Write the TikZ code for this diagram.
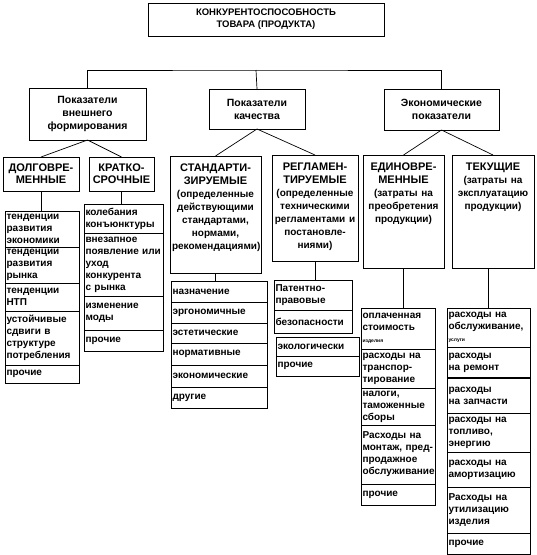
\documentclass[tikz,border=0pt]{standalone}
\usepackage{fontspec}
\setmainfont{Liberation Sans}
\usetikzlibrary{positioning}
\tikzset{
  blk/.style={rectangle,draw=black,line width=0.7pt,outer sep=0pt,
    inner sep=2pt,align=center},
  topblk/.style={blk,font=\fontsize{9.5}{12}\selectfont\bfseries},
  grpblk/.style={blk,font=\fontsize{10.5}{13}\selectfont\bfseries},
  kindblk/.style={blk,text width=#1,font=\fontsize{11}{12}\selectfont\bfseries},
  notblk/.style={blk,text width=#1,inner ysep=3pt,text height=12pt,
    font=\fontsize{11}{13}\selectfont\bfseries},
  entry/.style={blk,align=left,inner xsep=1.5pt,inner ysep=0pt,text width=#1,
    font=\fontsize{10}{12}\selectfont\bfseries},
  link/.style={draw=black,line width=0.7pt},
}
\newcommand\subtxt[1]{{\fontsize{10}{13}\selectfont #1}}
\newcommand\tinytxt[1]{{\fontsize{5}{6}\selectfont #1}}

\begin{document}
\begin{tikzpicture}[x=1pt,y=-1pt]
  \useasboundingbox (0,0) rectangle (537,555);

  % top level
  \node[topblk,minimum width=236pt,minimum height=33pt,anchor=north west] (prod) at (148,3)
    {КОНКУРЕНТОСПОСОБНОСТЬ\\ТОВАРА (ПРОДУКТА)};

  % groups of indicators
  \node[grpblk,minimum width=117pt,minimum height=52pt,anchor=north west] (ext) at (29,88)
    {Показатели\\внешнего\\формирования};
  \node[grpblk,minimum width=96pt,minimum height=40pt,anchor=north west] (qual) at (209,89)
    {Показатели\\качества};
  \node[grpblk,minimum width=115pt,minimum height=41pt,anchor=north west] (econ) at (384,89)
    {Экономические\\показатели};

  % kinds of indicators
  \node[kindblk=72pt,minimum height=34pt,anchor=north west] (lng) at (3,157) {ДОЛГОВРЕ-\\МЕННЫЕ};
  \node[kindblk=61pt,minimum height=34pt,anchor=north west] (srt) at (89,157) {КРАТКО-\\СРОЧНЫЕ};
  \node[notblk=87pt,text depth=99pt,anchor=north west] (std) at (170,156)
    {СТАНДАРТИ-\\ЗИРУЕМЫЕ\\\subtxt{(определенные\\действующими\\стандартами,\\нормами,\\рекомендациями)}};
  \node[notblk=82pt,text depth=88pt,anchor=north west] (reg) at (272,155)
    {РЕГЛАМЕН-\\ТИРУЕМЫЕ\\\subtxt{(определенные\\техническими\\регламентами и\\постановле-\\ниями)}};
  \node[notblk=77pt,text depth=95pt,anchor=north west] (once) at (363,155)
    {ЕДИНОВРЕ-\\МЕННЫЕ\\\subtxt{(затраты на\\преобретения\\продукции)}};
  \node[notblk=78pt,text depth=95pt,anchor=north west] (cur) at (452,155)
    {ТЕКУЩИЕ\\\subtxt{(затраты на\\эксплуатацию\\продукции)}};

  % lists
  \coordinate (lng0) at (42,211);
  \foreach \t/\h [count=\i] in {{тенденции\\развития\\экономики}/36,{тенденции\\развития\\рынка}/36,
      {тенденции\\НТП}/28,{устойчивые\\сдвиги в\\структуре\\потребления}/54,прочие/18}{
    \pgfmathtruncatemacro\j{\i-1}
    \node[entry=71pt,minimum height=\h,below=0pt of lng\j] (lng\i) {\t};
  }
  \coordinate (srt0) at (123.5,204);
  \foreach \t/\h [count=\i] in {{колебания\\конъюнктуры}/29,
      {внезапное\\появление или\\уход\\конкурента\\с рынка}/63,{изменение\\моды}/34,прочие/21}{
    \pgfmathtruncatemacro\j{\i-1}
    \node[entry=76pt,minimum height=\h,below=0pt of srt\j] (srt\i) {\t};
  }
  \coordinate (std0) at (219,281);
  \foreach \t/\h [count=\i] in {назначение/21,эргономичные/21,эстетические/20,
      нормативные/22,экономические/22,другие/21}{
    \pgfmathtruncatemacro\j{\i-1}
    \node[entry=93pt,minimum height=\h,below=0pt of std\j] (std\i) {\t};
  }
  \node[entry=75pt,minimum height=30,anchor=north west] (reg1) at (274,280) {Патентно-\\правовые};
  \node[entry=75pt,minimum height=23,below=0pt of reg1] (reg2) {безопасности};
  \node[entry=80pt,minimum height=19,anchor=north west] (reg3) at (276,337) {экологически};
  \node[entry=80pt,minimum height=20,below=0pt of reg3] (reg4) {прочие};
  \coordinate (once0) at (398,308);
  \foreach \t/\h [count=\i] in {{оплаченная\\стоимость\\\tinytxt{изделия}}/41,
      {расходы на\\транспор-\\тирование}/39,{налоги,\\таможенные\\сборы}/37,
      {Расходы на\\монтаж, пред-\\продажное\\обслуживание}/59,прочие/21}{
    \pgfmathtruncatemacro\j{\i-1}
    \node[entry=71pt,minimum height=\h,below=0pt of once\j] (once\i) {\t};
  }
  \coordinate (cur0) at (488.5,308);
  \foreach \t/\h [count=\i] in {{расходы на\\обслуживание,\\\tinytxt{услуги}}/39,
      {расходы\\на ремонт}/31,{расходы\\на запчасти}/35,{расходы на\\топливо,\\энергию}/39,
      {расходы на\\амортизацию}/35,{Расходы на\\утилизацию\\изделия}/46,прочие/21}{
    \pgfmathtruncatemacro\j{\i-1}
    \node[entry=80pt,minimum height=\h,below=0pt of cur\j] (cur\i) {\t};
  }
  \draw[line width=1.6pt] (cur2.south west) -- (cur2.south east);

  % connectors
  \coordinate (bar) at (256,70);
  \draw[link] (ext.north) |- (bar) -| (econ.north);
  \draw[link] (bar) -- (qual.north);
  \foreach \a/\b in {ext/lng,ext/srt,qual/std,qual/reg,econ/once,econ/cur}
    \draw[link] (\a.south) -- (\b.north);
  \foreach \a/\b in {lng/lng1,srt/srt1,std/std1,reg/reg1,once/once1}
    \draw[link] (\a.south) -- (\a.south |- \b.north);
  \draw[link] (cur1.north) -- (cur1.north |- cur.south);
\end{tikzpicture}
\end{document}
